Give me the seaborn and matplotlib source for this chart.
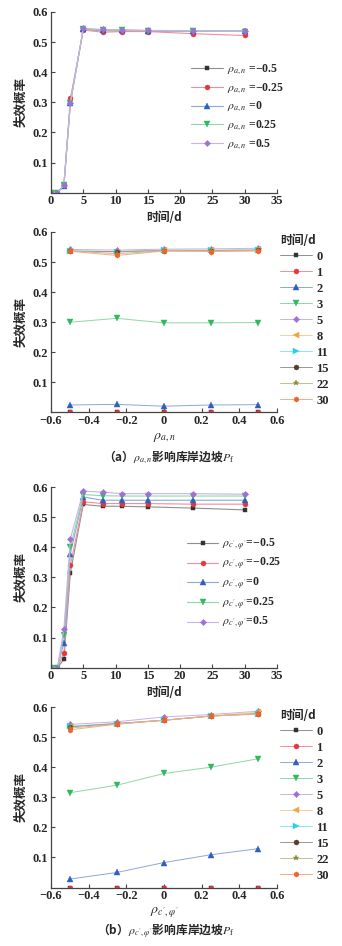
import numpy as np
import pandas as pd
import matplotlib
matplotlib.use("Agg")
import matplotlib.pyplot as plt
import seaborn as sns

# ---------------- data ----------------
times = [0, 1, 2, 3, 5, 8, 11, 15, 22, 30]
rho_vals = [-0.5, -0.25, 0, 0.25, 0.5]

# (a) rho_{a,n}: failure probability vs time for each rho
pa_m050 = [0, 0, 0.025, 0.300, 0.542, 0.538, 0.537, 0.536, 0.537, 0.536]
pa_m025 = [0, 0, 0.027, 0.313, 0.540, 0.533, 0.535, 0.535, 0.528, 0.522]
pa_000 = [0, 0, 0.021, 0.298, 0.543, 0.540, 0.540, 0.538, 0.537, 0.537]
pa_p025 = [0, 0, 0.025, 0.298, 0.544, 0.540, 0.539, 0.538, 0.537, 0.535]
pa_p050 = [0, 0, 0.026, 0.299, 0.546, 0.542, 0.541, 0.539, 0.538, 0.537]

# (b) rho_{c',phi'}
pb_m050 = [0, 0, 0.028, 0.315, 0.542, 0.536, 0.536, 0.534, 0.530, 0.524]
pb_m025 = [0, 0, 0.050, 0.340, 0.551, 0.545, 0.545, 0.545, 0.543, 0.543]
pb_000 = [0, 0, 0.083, 0.379, 0.567, 0.556, 0.556, 0.556, 0.556, 0.556]
pb_p025 = [0, 0, 0.109, 0.400, 0.575, 0.571, 0.570, 0.570, 0.570, 0.570]
pb_p050 = [0, 0, 0.129, 0.428, 0.586, 0.583, 0.578, 0.578, 0.578, 0.576]

rho_labels_a = [r"$\rho_{a,n}$ =−0.5", r"$\rho_{a,n}$ =−0.25", r"$\rho_{a,n}$ =0",
                r"$\rho_{a,n}$ =0.25", r"$\rho_{a,n}$ =0.5"]
rho_labels_b = [r"$\rho_{c',\varphi'}$=−0.5", r"$\rho_{c',\varphi'}$=−0.25", r"$\rho_{c',\varphi'}$=0",
                r"$\rho_{c',\varphi'}$=0.25", r"$\rho_{c',\varphi'}$=0.5"]
time_labels = ["0", "1", "2", "3", "5", "8", "11", "15", "22", "30"]

xticks_time = [0, 5, 10, 15, 20, 25, 30, 35]
xticks_rho = [-0.6, -0.4, -0.2, 0, 0.2, 0.4, 0.6]
xticklabels_rho = ["−0.6", "−0.4", "−0.2", "0", "0.2", "0.4", "0.6"]
yticks = [0.1, 0.2, 0.3, 0.4, 0.5, 0.6]
yticklabels = ["0.1", "0.2", "0.3", "0.4", "0.5", "0.6"]

# ---------------- style ----------------
sns.set_style("ticks")
plt.rcParams["font.family"] = ["Liberation Serif", "Noto Sans CJK SC", "DejaVu Sans"]
plt.rcParams["mathtext.fontset"] = "stix"
plt.rcParams["axes.unicode_minus"] = True

rho_colors = ["#333333", "#e8343a", "#2e5fbf", "#2dba5e", "#a070d8"]
rho_markers = ["s", "o", "^", "v", "D"]
time_colors = ["#333333", "#e8343a", "#2e5fbf", "#2dba5e", "#a070d8",
               "#f2a541", "#22d3e6", "#5b3b30", "#8c8a3a", "#f0642a"]
time_markers = ["s", "o", "^", "v", "D", "<", ">", "o", "*", "h"]
msizes_rho = [3.3, 3.6, 3.8, 3.8, 3.2]
msizes_time = [3.3, 3.6, 3.8, 3.8, 3.2, 3.8, 3.8, 3.6, 4.2, 3.8]


def light(c, f=0.45):
    rgb = np.array(matplotlib.colors.to_rgb(c))
    return tuple(rgb + (1 - rgb) * f)


TICKFONT = dict(family=["Liberation Serif"], weight="bold", size=9)
CJK = ["Noto Sans CJK SC", "DejaVu Sans"]

fig = plt.figure(figsize=(3.42, 9.46), dpi=100)
L, W = 51 / 342, 226 / 342
positions = [(12, 192.7), (232, 412.5), (487, 667.7), (707, 887.5)]
axes = []
for top, bot in positions:
    axes.append(fig.add_axes([L, 1 - bot / 946, W, (bot - top) / 946]))


def style_axes(ax):
    sns.despine(ax=ax)
    for s in ["left", "bottom"]:
        ax.spines[s].set_linewidth(0.9)
        ax.spines[s].set_color("#444444")
    ax.tick_params(direction="in", length=3, width=0.8, color="#444444", pad=2)
    ax.set_ylim(0, 0.6)
    ax.set_yticks(yticks)
    ax.set_yticklabels(yticklabels, fontdict=TICKFONT)
    ax.set_ylabel("失效概率", family=CJK, fontsize=9, weight="bold")
    ax.yaxis.set_label_coords(-0.105, 0.5)


def time_panel(ax, series, labels, leg_anchor, lspacing):
    for vals, lab, c, m, ms in zip(series, labels, rho_colors, rho_markers, msizes_rho):
        df = pd.DataFrame({"t": times, "p": vals})
        sns.lineplot(data=df, x="t", y="p", ax=ax, color=light(c), linewidth=0.8,
                     marker=m, markersize=ms, markerfacecolor=c, markeredgecolor=c,
                     markeredgewidth=0.3, label=lab, sort=False)
    ax.set_xlim(0, 35)
    ax.set_xticks(xticks_time)
    ax.set_xticklabels([str(v) for v in xticks_time], fontdict=TICKFONT)
    style_axes(ax)
    ax.set_xlabel("时间/d", family=CJK, fontsize=8.5, weight="bold")
    ax.xaxis.set_label_coords(0.5, -0.10)
    ax.legend(loc="upper left", bbox_to_anchor=leg_anchor, frameon=False,
              borderpad=0, borderaxespad=0, handlelength=2.7, handletextpad=0.3,
              labelspacing=lspacing, prop=dict(family=["Liberation Serif"], weight="bold", size=8.5))


def rho_panel(ax, series, xlabel, leg_anchor):
    mat = np.array(series)  # rho x time
    for j, (lab, c, m, ms) in enumerate(zip(time_labels, time_colors, time_markers, msizes_time)):
        df = pd.DataFrame({"r": rho_vals, "p": mat[:, j]})
        sns.lineplot(data=df, x="r", y="p", ax=ax, color=light(c), linewidth=0.7,
                     marker=m, markersize=ms, markerfacecolor=c, markeredgecolor=c,
                     markeredgewidth=0.3, label=lab, sort=False)
    ax.set_xlim(-0.6, 0.6)
    ax.set_xticks(xticks_rho)
    ax.set_xticklabels(xticklabels_rho, fontdict=TICKFONT)
    style_axes(ax)
    ax.set_xlabel(xlabel, fontsize=10)
    ax.xaxis.set_label_coords(0.5, -0.10)
    leg = ax.legend(loc="upper left", bbox_to_anchor=leg_anchor, frameon=False,
                    borderpad=0, borderaxespad=0, handlelength=2.6, handletextpad=0.3,
                    labelspacing=0.32, title="时间/d", alignment="left",
                    prop=dict(family=["Liberation Serif"], weight="bold", size=9))
    leg.get_title().set_fontfamily(CJK)
    leg.get_title().set_fontweight("bold")
    leg.get_title().set_fontsize(8.5)


time_panel(axes[0], [pa_m050, pa_m025, pa_000, pa_p025, pa_p050], rho_labels_a, (0.62, 0.72), 0.35)
rho_panel(axes[1], [pa_m050, pa_m025, pa_000, pa_p025, pa_p050], r"$\rho_{a,n}$", (1.013, 0.99))
time_panel(axes[2], [pb_m050, pb_m025, pb_000, pb_p025, pb_p050], rho_labels_b, (0.60, 0.725), 0.3)
rho_panel(axes[3], [pb_m050, pb_m025, pb_000, pb_p025, pb_p050], r"$\rho_{c',\varphi'}$", (1.013, 0.99))

fig.text(0.495, 1 - 457 / 946, r"（a）$\rho_{a,n}$影响库岸边坡$P_{\mathrm{f}}$", ha="center", va="center",
         family=CJK, fontsize=8.5, weight="bold")
fig.text(0.485, 1 - 931 / 946, r"（b）$\rho_{c',\varphi'}$影响库岸边坡$P_{\mathrm{f}}$", ha="center", va="center",
         family=CJK, fontsize=8.5, weight="bold")

fig.savefig("out.png", dpi=100)
